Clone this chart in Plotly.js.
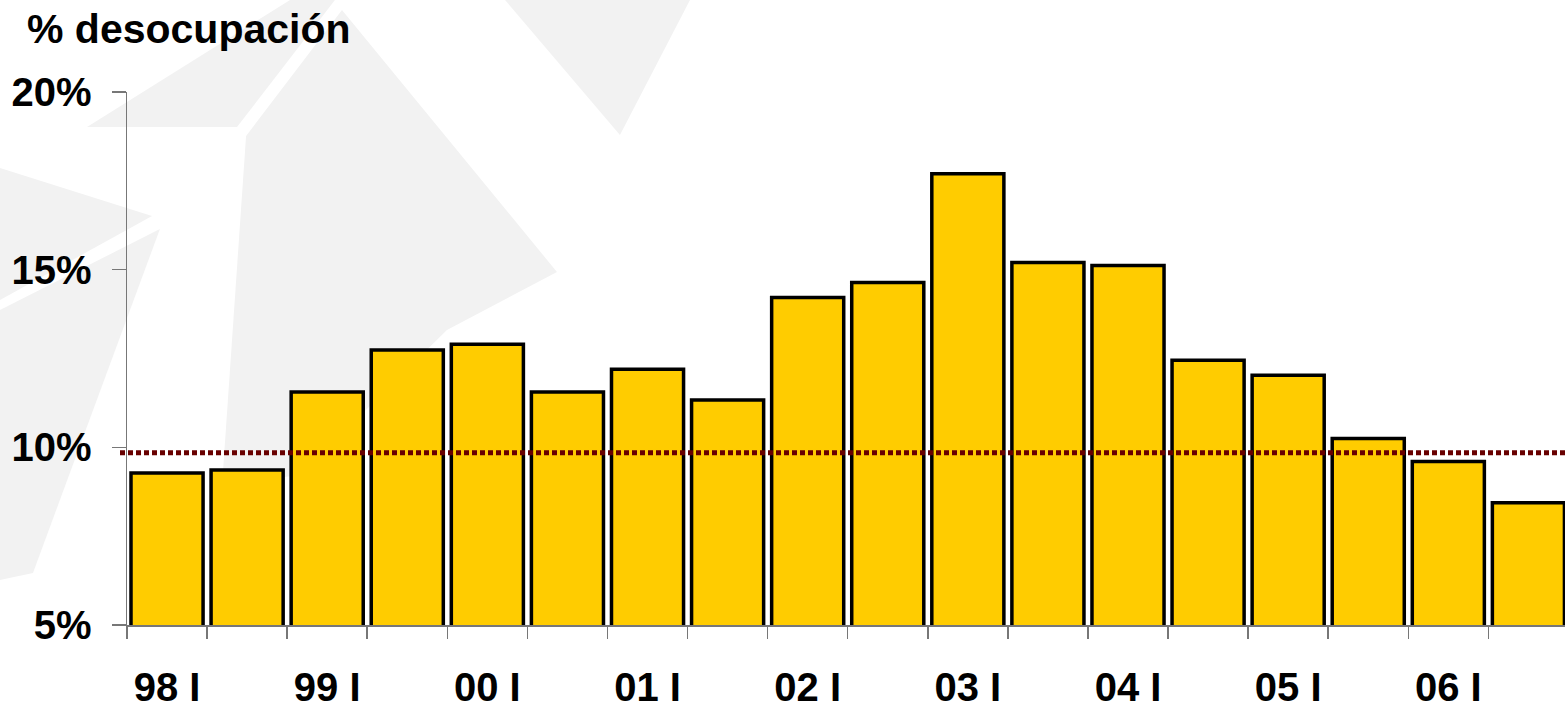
<!DOCTYPE html>
<html>
<head>
<meta charset="utf-8">
<script src="https://cdn.plot.ly/plotly-3.0.1.min.js"></script>
<style>
  html, body { margin: 0; padding: 0; background: #ffffff; }
  #chart { width: 1565px; height: 708px; }
</style>
</head>
<body>
<div id="chart"></div>
<script>
// ---- data ----
const years = ['98', '99', '00', '01', '02', '03', '04', '05', '06'];
const halves = ['I', 'II'];
const unemploymentRate = [9.28, 9.36, 11.56, 12.74, 12.9, 11.56, 12.2, 11.33, 14.22,
                          14.64, 17.7, 15.2, 15.12, 12.45, 12.03, 10.25, 9.6, 8.44];
const averageRate = 9.85;
const yTickValues = [5, 10, 15, 20];
const chartTitle = '% desocupación';

// categories and tick labels (only first half of each year is labelled)
const categories = [];
const tickLabels = [];
years.forEach(y => halves.forEach(h => {
  categories.push(y + ' ' + h);
  tickLabels.push(h === 'I' ? y + ' ' + h : '');
}));

// ---- layout geometry ----
const W = 1565, H = 708;
const M = { l: 127, r: 0, t: 92, b: 83 };
const plotW = W - M.l - M.r, plotH = H - M.t - M.b;
// pixel -> paper helpers for the faint background watermark
const px = x => (x - M.l) / plotW;
const py = y => (H - M.b - y) / plotH;
function poly(pts) {
  return 'M ' + pts.map(p => px(p[0]).toFixed(4) + ',' + py(p[1]).toFixed(4)).join(' L ') + ' Z';
}
const wmColor = '#f2f2f2';
const watermark = [
  [[505, 0], [690, 0], [620, 135]],
  [[87, 127], [237, 127], [335, 0], [290, 0]],
  [[246, 136], [342, 10], [557, 272], [447, 330], [300, 475], [222, 485]],
  [[0, 168], [152, 216], [0, 300]],
  [[0, 310], [160, 229], [33, 573], [0, 580]]
].map(pts => ({
  type: 'path', xref: 'paper', yref: 'paper', layer: 'below',
  path: poly(pts), fillcolor: wmColor, line: { width: 0 }
}));

const FONT = 'Liberation Sans, Arial, sans-serif';

const traces = [{
  type: 'bar',
  x: categories,
  y: unemploymentRate,
  marker: { color: '#FFCC00', line: { color: '#000000', width: 3.5 } },
  hoverinfo: 'x+y'
}];

const shapes = watermark.concat([{
  type: 'line', xref: 'paper', yref: 'y', layer: 'above',
  x0: px(120), x1: 1, y0: averageRate, y1: averageRate,
  line: { color: '#680000', width: 5, dash: '5px,3px' }
}]);

const layout = {
  width: W, height: H,
  margin: M,
  paper_bgcolor: '#ffffff',
  plot_bgcolor: 'rgba(0,0,0,0)',
  showlegend: false,
  bargap: 0.1,
  font: { family: FONT, color: '#000000' },
  title: {
    text: '<b>' + chartTitle + '</b>',
    font: { family: FONT, size: 41, color: '#000000' },
    xref: 'container', yref: 'container',
    x: 27 / W, xanchor: 'left',
    y: 1 - 14 / H, yanchor: 'top'
  },
  xaxis: {
    type: 'category',
    range: [-0.5, 17.457],
    tickmode: 'array',
    tickvals: categories,
    ticktext: tickLabels.map(t => t ? '<b>' + t + '</b>' : ''),
    tickson: 'boundaries',
    ticks: 'outside', ticklen: 12, tickwidth: 1.5, tickcolor: '#777777',
    showline: true, linecolor: '#777777', linewidth: 1.5,
    showgrid: false, zeroline: false,
    tickfont: { family: FONT, size: 40, color: '#000000' },
    ticklabelstandoff: 26,
    fixedrange: true
  },
  yaxis: {
    range: [5, 20],
    tickmode: 'array',
    tickvals: yTickValues,
    ticktext: yTickValues.map(v => '<b>' + v + '%</b>'),
    ticks: 'outside', ticklen: 14, tickwidth: 1.5, tickcolor: '#777777',
    showline: true, linecolor: '#777777', linewidth: 1.5,
    showgrid: false, zeroline: false,
    tickfont: { family: FONT, size: 40, color: '#000000' },
    ticklabelstandoff: 12,
    fixedrange: true
  },
  shapes: shapes
};

Plotly.newPlot('chart', traces, layout, { displayModeBar: false, staticPlot: true });
</script>
</body>
</html>
